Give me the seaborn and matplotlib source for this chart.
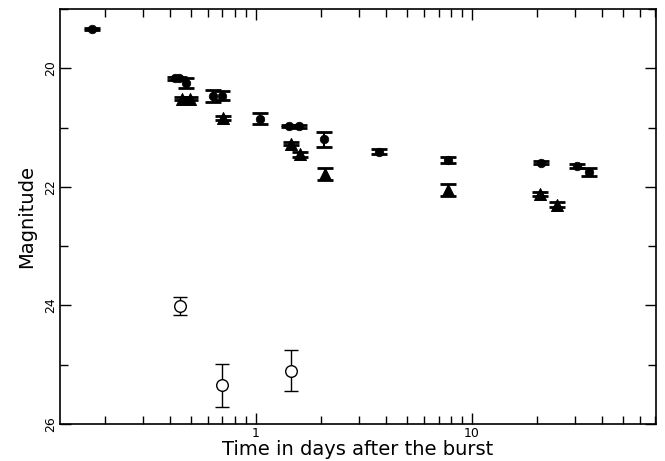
import numpy as np
import pandas as pd
import matplotlib
matplotlib.use("Agg")
import matplotlib.pyplot as plt
import matplotlib.ticker as mticker
import seaborn as sns

# filled circles
circ_t = [0.174, 0.422, 0.44, 0.474, 0.63, 0.70, 1.05, 1.42, 1.58, 2.06, 3.71, 7.72, 20.9, 30.5, 34.8]
circ_mag = [19.34, 20.17, 20.17, 20.25, 20.47, 20.46, 20.85, 20.97, 20.98, 21.2, 21.41, 21.55, 21.59, 21.65, 21.75]
circ_err = [0.02, 0.02, 0.02, 0.08, 0.1, 0.08, 0.09, 0.02, 0.03, 0.13, 0.04, 0.05, 0.03, 0.03, 0.06]

# filled triangles
tri_t = [0.456, 0.495, 0.706, 1.46, 1.60, 2.09, 7.72, 20.7, 24.8]
tri_mag = [20.51, 20.51, 20.84, 21.27, 21.45, 21.78, 22.06, 22.12, 22.30]
tri_err = [0.02, 0.02, 0.03, 0.03, 0.04, 0.1, 0.1, 0.04, 0.04]

# open circles
open_t = [0.445, 0.694, 1.45]
open_mag = [24.01, 25.35, 25.1]
open_err = [0.15, 0.37, 0.34]

df_c = pd.DataFrame({"t": circ_t, "mag": circ_mag, "err": circ_err})
df_tr = pd.DataFrame({"t": tri_t, "mag": tri_mag, "err": tri_err})
df_o = pd.DataFrame({"t": open_t, "mag": open_mag, "err": open_err})

sns.set_style("ticks")
plt.rcParams['font.family'] = ['DejaVu Sans']
plt.rcParams['text.color'] = 'black'
plt.rcParams['axes.labelcolor'] = 'black'
plt.rcParams['xtick.color'] = 'black'
plt.rcParams['ytick.color'] = 'black'
plt.rcParams['axes.edgecolor'] = 'black'

fig = plt.figure(figsize=(6.65, 4.61), dpi=100)
ax = fig.add_axes([0.0902, 0.0803, 0.8963, 0.9002])

for d in [df_c, df_tr]:
    ax.errorbar(d["t"], d["mag"], yerr=d["err"], fmt="none", ecolor="black",
                elinewidth=1.5, capsize=6, capthick=2, zorder=2)
ax.errorbar(df_o["t"], df_o["mag"], yerr=df_o["err"], fmt="none", ecolor="black",
            elinewidth=1.0, capsize=5, capthick=1.0, zorder=2)

sns.scatterplot(data=df_c, x="t", y="mag", marker="o", s=38, color="black",
                edgecolor="black", ax=ax, zorder=3)
sns.scatterplot(data=df_tr, x="t", y="mag", marker="^", s=75, color="black",
                edgecolor="black", ax=ax, zorder=3)
sns.scatterplot(data=df_o, x="t", y="mag", marker="o", s=70, facecolor="white",
                edgecolor="black", linewidth=1.0, ax=ax, zorder=3)

ax.set_xscale("log")
ax.set_xlim(0.124, 71)
ax.set_ylim(26, 19)

ax.xaxis.set_major_locator(mticker.FixedLocator([1, 10]))
ax.xaxis.set_major_formatter(mticker.FixedFormatter(["1", "10"]))
ax.xaxis.set_minor_locator(mticker.LogLocator(base=10, subs=np.arange(2, 10)))
ax.xaxis.set_minor_formatter(mticker.NullFormatter())
ax.yaxis.set_major_locator(mticker.MultipleLocator(2))
ax.yaxis.set_minor_locator(mticker.MultipleLocator(1))

ax.tick_params(which="both", direction="in", top=True, right=True, width=1)
ax.tick_params(which="major", length=8, labelsize=9, pad=2)
ax.tick_params(which="minor", length=6)
for lab in ax.get_yticklabels():
    lab.set_rotation(90)
    lab.set_va("center")
for sp in ax.spines.values():
    sp.set_linewidth(1.2)

ax.set_xlabel("Time in days after the burst", fontsize=14, labelpad=0)
ax.set_ylabel("Magnitude", fontsize=14, labelpad=6)

fig.savefig("out.png", dpi=100)
